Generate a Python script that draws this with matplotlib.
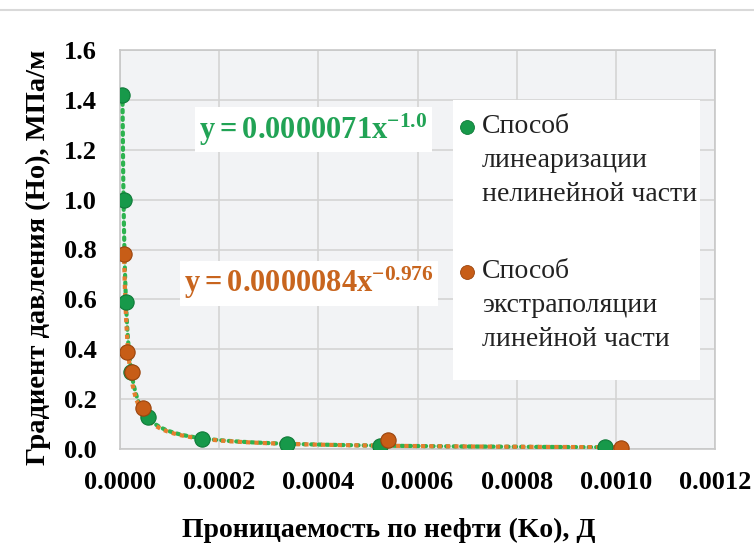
import numpy as np
import matplotlib
matplotlib.use("Agg")
import matplotlib.pyplot as plt
from matplotlib.lines import Line2D
from matplotlib.patches import Rectangle

# ---- data ----
green_x = [5.0e-6, 7.1e-6, 1.2e-5, 2.3e-5, 5.6e-5, 1.65e-4, 3.37e-4, 5.24e-4, 9.78e-4]
green_y = [1.42, 1.00, 0.59, 0.31, 0.13, 0.04, 0.02, 0.012, 0.007]
orange_x = [8.0e-6, 1.5e-5, 2.4e-5, 4.6e-5, 5.4e-4, 1.01e-3]
orange_y = [0.78, 0.39, 0.31, 0.164, 0.035, 0.005]
green_fit = (0.0000071, -1.0)
orange_fit = (0.0000084, -0.976)
x_ticks = [0.0, 0.0002, 0.0004, 0.0006, 0.0008, 0.0010, 0.0012]
y_ticks = [0.0, 0.2, 0.4, 0.6, 0.8, 1.0, 1.2, 1.4, 1.6]
green_label = "Способ\nлинеаризации\nнелинейной части"
orange_label = "Способ\nэкстраполяции\nлинейной части"
green_eq = r"$\mathbf{y = 0.0000071x^{-1.0}}$"
orange_eq = r"$\mathbf{y = 0.0000084x^{-0.976}}$"

plt.rcParams['font.family'] = ['Liberation Serif', 'DejaVu Serif']
plt.rcParams['mathtext.fontset'] = 'custom'
plt.rcParams['mathtext.rm'] = 'Liberation Serif:bold'
plt.rcParams['mathtext.bf'] = 'Liberation Serif:bold'
plt.rcParams['mathtext.it'] = 'Liberation Serif:bold'

W, H = 754, 545
fig = plt.figure(figsize=(W / 100, H / 100), dpi=100)
fig.patch.set_facecolor('white')
ax = fig.add_axes([120 / W, 1 - 449 / H, (715 - 120) / W, (449 - 50) / H])
ax.set_facecolor('#f2f3f5')

GREEN_LINE = '#2db34f'
ORANGE_LINE = '#e67e2e'
GREEN_MK = '#17994a'
ORANGE_MK = '#c75d17'

# trendlines
gx = np.linspace(min(green_x), max(green_x), 2000)
ax.plot(gx, green_fit[0] * gx ** green_fit[1], color=GREEN_LINE, lw=3.0,
        linestyle=(0, (0.6, 1.2)), dash_capstyle='round', zorder=3)
ox = np.linspace(min(orange_x), max(orange_x), 2000)
ax.plot(ox, orange_fit[0] * ox ** orange_fit[1], color=ORANGE_LINE, lw=3.0,
        linestyle=(0, (1.0, 1.0)), zorder=3.1)

# markers
ax.plot(green_x, green_y, 'o', ms=11, color=GREEN_MK, mec='#0f7a38', mew=0.8, zorder=4)
ax.plot(orange_x, orange_y, 'o', ms=11, color=ORANGE_MK, mec='#9a440d', mew=0.8, zorder=5)

ax.set_xlim(0, 0.0012)
ax.set_ylim(0, 1.6)
ax.set_xticks(x_ticks)
ax.set_yticks(y_ticks)
ax.set_xticklabels([f"{v:.4f}" for v in x_ticks])
ax.set_yticklabels([f"{v:.1f}" for v in y_ticks])
ax.tick_params(axis='both', length=0, labelsize=19)
ax.tick_params(axis='x', pad=16)
ax.tick_params(axis='y', pad=17)
for lab in ax.get_xticklabels() + ax.get_yticklabels():
    lab.set_fontweight('bold')
ax.grid(True, color='#d4d4d4', lw=1.2)
ax.set_axisbelow(True)
for s in ax.spines.values():
    s.set_color('#c8c8c8')
    s.set_linewidth(1.2)

fig.text(389 / W, 1 - 530 / H, "Проницаемость по нефти (Ko), Д", ha='center', va='center',
         fontsize=20, fontweight='bold')
fig.text(38 / W, 1 - 257 / H, "Градиент давления (Ho), МПа/м", ha='center', va='center',
         rotation=90, fontsize=20.5, fontweight='bold')

# equations
ax.text(0.000160, 1.28, green_eq, color='#21a355', fontsize=22, ha='left', va='center',
        bbox=dict(facecolor='white', edgecolor='none', pad=3), zorder=6)
ax.text(0.000130, 0.665, orange_eq, color='#c8651e', fontsize=22, ha='left', va='center',
        bbox=dict(facecolor='white', edgecolor='none', pad=3), zorder=6)

# legend (manual)
fig.add_artist(Rectangle((453 / W, 1 - 380 / H), (700 - 453) / W, (380 - 100) / H,
                         transform=fig.transFigure, facecolor='white', edgecolor='none', zorder=7))
for label, yc, col, ec in [(green_label, 127, GREEN_MK, '#0f7a38'),
                           (orange_label, 272, ORANGE_MK, '#9a440d')]:
    fig.add_artist(Line2D([467 / W], [1 - yc / H], marker='o', ms=10, color=col, mec=ec,
                          mew=0.6, linestyle='none', transform=fig.transFigure, zorder=8))
    fig.text(482 / W, 1 - (yc - 13) / H, label, ha='left', va='top', fontsize=20,
             linespacing=1.47, color='#222222', zorder=8)

# top border line
fig.add_artist(Line2D([0, 1], [1 - 10 / H, 1 - 10 / H], color='#d9d9d9', lw=1.5,
                      transform=fig.transFigure))

fig.savefig("out.png", dpi=100)
